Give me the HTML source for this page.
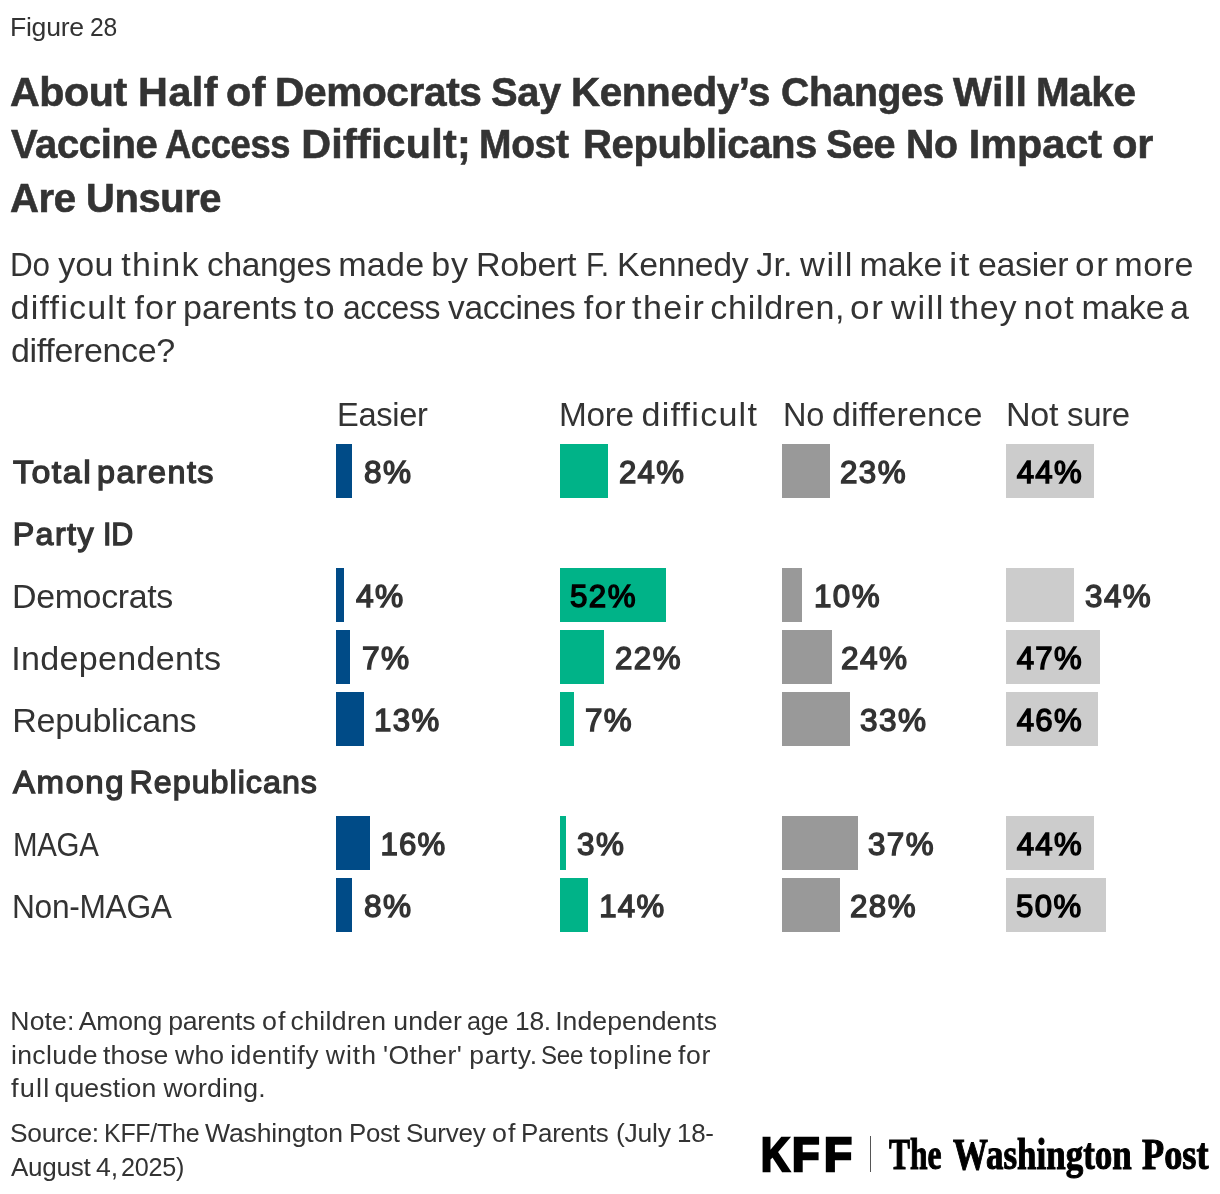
<!DOCTYPE html>
<html lang="en"><head><meta charset="utf-8"><title>Figure 28</title>
<style>
html,body{margin:0;padding:0;background:#fff;}
body{width:1220px;height:1194px;position:relative;overflow:hidden;font-family:"Liberation Sans",sans-serif;color:#333;}
.t{position:absolute;left:0;white-space:pre;line-height:1;margin:0;}
.t span{position:absolute;top:0;transform-origin:0 0;}
.b{position:absolute;height:54px;}
</style></head><body>
<div class="b" style="left:336px;top:444px;width:16px;background:#004b87"></div>
<div class="b" style="left:560px;top:444px;width:48px;background:#00b388"></div>
<div class="b" style="left:782px;top:444px;width:48px;background:#999999"></div>
<div class="b" style="left:1006px;top:444px;width:88px;background:#cccccc"></div>
<div class="b" style="left:336px;top:568px;width:8px;background:#004b87"></div>
<div class="b" style="left:560px;top:568px;width:106px;background:#00b388"></div>
<div class="b" style="left:782px;top:568px;width:20px;background:#999999"></div>
<div class="b" style="left:1006px;top:568px;width:68px;background:#cccccc"></div>
<div class="b" style="left:336px;top:630px;width:14px;background:#004b87"></div>
<div class="b" style="left:560px;top:630px;width:44px;background:#00b388"></div>
<div class="b" style="left:782px;top:630px;width:50px;background:#999999"></div>
<div class="b" style="left:1006px;top:630px;width:94px;background:#cccccc"></div>
<div class="b" style="left:336px;top:692px;width:28px;background:#004b87"></div>
<div class="b" style="left:560px;top:692px;width:14px;background:#00b388"></div>
<div class="b" style="left:782px;top:692px;width:68px;background:#999999"></div>
<div class="b" style="left:1006px;top:692px;width:92px;background:#cccccc"></div>
<div class="b" style="left:336px;top:816px;width:34px;background:#004b87"></div>
<div class="b" style="left:560px;top:816px;width:6px;background:#00b388"></div>
<div class="b" style="left:782px;top:816px;width:76px;background:#999999"></div>
<div class="b" style="left:1006px;top:816px;width:88px;background:#cccccc"></div>
<div class="b" style="left:336px;top:878px;width:16px;background:#004b87"></div>
<div class="b" style="left:560px;top:878px;width:28px;background:#00b388"></div>
<div class="b" style="left:782px;top:878px;width:58px;background:#999999"></div>
<div class="b" style="left:1006px;top:878px;width:100px;background:#cccccc"></div>
<div class="t" style="top:14px;font-size:26.6px;"><span style="left:9.5px;letter-spacing:-0.266px;transform:scaleX(0.9996);">Figure</span> <span style="left:89.53px;letter-spacing:-0.266px;transform:scaleX(0.928);">28</span></div>
<div class="t" style="top:72px;font-size:41.33px;font-weight:700;-webkit-text-stroke:0.6px #333333;"><span style="left:9.5px;letter-spacing:-0.413px;transform:scaleX(0.9966);">About</span> <span style="left:138.09px;letter-spacing:0.479px;">Half</span> <span style="left:225.98px;letter-spacing:0.558px;">of</span> <span style="left:274.95px;letter-spacing:-0.413px;transform:scaleX(0.9837);">Democrats</span> <span style="left:490.87px;letter-spacing:-0.413px;transform:scaleX(0.9644);">Say</span> <span style="left:571.1px;letter-spacing:-0.413px;transform:scaleX(0.9775);">Kennedy’s</span> <span style="left:780.71px;letter-spacing:-0.413px;transform:scaleX(0.9485);">Changes</span> <span style="left:952.93px;letter-spacing:0.358px;">Will</span> <span style="left:1035.55px;letter-spacing:-0.413px;transform:scaleX(0.9783);">Make</span></div>
<div class="t" style="top:124px;font-size:41.33px;font-weight:700;-webkit-text-stroke:0.6px #333333;"><span style="left:10.79px;letter-spacing:-0.413px;transform:scaleX(0.9687);">Vaccine</span> <span style="left:164.58px;letter-spacing:-0.413px;transform:scaleX(0.8789);">Access</span> <span style="left:301.2px;letter-spacing:0.21px;">Difficult;</span> <span style="left:479.09px;letter-spacing:-0.413px;transform:scaleX(0.9445);">Most</span> <span style="left:582.55px;letter-spacing:-0.413px;transform:scaleX(0.9703);">Republicans</span> <span style="left:825.99px;letter-spacing:-0.413px;transform:scaleX(0.9576);">See</span> <span style="left:906.05px;letter-spacing:-0.413px;transform:scaleX(0.9494);">No</span> <span style="left:968.85px;letter-spacing:-0.023px;">Impact</span> <span style="left:1112.21px;letter-spacing:-0.153px;">or</span></div>
<div class="t" style="top:178px;font-size:41.33px;font-weight:700;-webkit-text-stroke:0.6px #333333;"><span style="left:9.52px;letter-spacing:-0.413px;transform:scaleX(0.971);">Are</span> <span style="left:86.02px;letter-spacing:-0.413px;transform:scaleX(0.9652);">Unsure</span></div>
<div class="t" style="top:247px;font-size:34.1px;"><span style="left:10.45px;letter-spacing:-0.341px;transform:scaleX(0.9232);">Do</span> <span style="left:58.23px;letter-spacing:0.104px;">you</span> <span style="left:121.22px;letter-spacing:1.325px;">think</span> <span style="left:206.5px;letter-spacing:-0.341px;transform:scaleX(0.9809);">changes</span> <span style="left:338.16px;letter-spacing:0.23px;">made</span> <span style="left:431.22px;letter-spacing:0.839px;">by</span> <span style="left:476.03px;letter-spacing:-0.341px;transform:scaleX(0.9982);">Robert</span> <span style="left:585.56px;letter-spacing:-0.341px;transform:scaleX(0.8841);">F.</span> <span style="left:616.71px;letter-spacing:-0.341px;transform:scaleX(0.9935);">Kennedy</span> <span style="left:756.3px;letter-spacing:0.107px;">Jr.</span> <span style="left:800.21px;letter-spacing:1.534px;transform:scaleX(1.01);">will</span> <span style="left:859.45px;letter-spacing:-0.078px;">make</span> <span style="left:949.47px;letter-spacing:1.534px;transform:scaleX(1.1028);">it</span> <span style="left:977.92px;letter-spacing:-0.341px;transform:scaleX(0.9948);">easier</span> <span style="left:1074.9px;letter-spacing:1.534px;transform:scaleX(1.0343);">or</span> <span style="left:1114.2px;letter-spacing:0.571px;">more</span></div>
<div class="t" style="top:290px;font-size:34.1px;"><span style="left:10.5px;letter-spacing:1.209px;">difficult</span> <span style="left:134.53px;letter-spacing:1.125px;">for</span> <span style="left:182.94px;letter-spacing:0.085px;">parents</span> <span style="left:304.39px;letter-spacing:1.534px;transform:scaleX(1.0232);">to</span> <span style="left:342.9px;letter-spacing:-0.341px;transform:scaleX(0.933);">access</span> <span style="left:447.62px;letter-spacing:-0.341px;transform:scaleX(0.9816);">vaccines</span> <span style="left:583.71px;letter-spacing:1.125px;">for</span> <span style="left:632.12px;letter-spacing:1.381px;">their</span> <span style="left:710.32px;letter-spacing:0.675px;">children,</span> <span style="left:850.22px;letter-spacing:1.534px;transform:scaleX(1.0346);">or</span> <span style="left:890.55px;letter-spacing:1.534px;transform:scaleX(1.0104);">will</span> <span style="left:949.81px;letter-spacing:0.796px;">they</span> <span style="left:1023.6px;letter-spacing:1.349px;">not</span> <span style="left:1081.58px;letter-spacing:-0.067px;">make</span> <span style="left:1170.03px;">a</span></div>
<div class="t" style="top:333px;font-size:34.1px;"><span style="left:10.5px;letter-spacing:-0.341px;transform:scaleX(0.998);">difference?</span></div>
<div class="t" style="top:397px;font-size:34.1px;"><span style="left:336.99px;letter-spacing:-0.341px;transform:scaleX(0.9574);">Easier</span></div>
<div class="t" style="top:397px;font-size:34.1px;"><span style="left:559.34px;letter-spacing:-0.341px;transform:scaleX(0.9785);">More</span> <span style="left:641.56px;letter-spacing:1.233px;">difficult</span></div>
<div class="t" style="top:397px;font-size:34.1px;"><span style="left:782.89px;letter-spacing:-0.341px;transform:scaleX(0.9529);">No</span> <span style="left:832.01px;letter-spacing:0.145px;">difference</span></div>
<div class="t" style="top:397px;font-size:34.1px;"><span style="left:1005.9px;letter-spacing:-0.219px;">Not</span> <span style="left:1067.35px;letter-spacing:-0.341px;transform:scaleX(0.9679);">sure</span></div>
<div class="t" style="top:456px;font-size:32.22px;-webkit-text-stroke:1.3px #333333;"><span style="left:13.38px;letter-spacing:1.45px;transform:scaleX(1.0516);">Total</span> <span style="left:97.11px;letter-spacing:1.45px;transform:scaleX(1.0025);">parents</span></div>
<div class="t" style="top:518px;font-size:32.22px;-webkit-text-stroke:1.3px #333333;"><span style="left:12.65px;letter-spacing:1.421px;">Party</span> <span style="left:102.93px;letter-spacing:-0.322px;transform:scaleX(0.9455);">ID</span></div>
<div class="t" style="top:579px;font-size:34.1px;"><span style="left:12.31px;letter-spacing:-0.341px;transform:scaleX(0.9957);">Democrats</span></div>
<div class="t" style="top:641px;font-size:34.1px;"><span style="left:11.3px;letter-spacing:0.281px;">Independents</span></div>
<div class="t" style="top:703px;font-size:34.1px;"><span style="left:12.3px;letter-spacing:-0.321px;">Republicans</span></div>
<div class="t" style="top:766px;font-size:32.22px;-webkit-text-stroke:1.3px #333333;"><span style="left:12.87px;letter-spacing:1.45px;transform:scaleX(1.0244);">Among</span> <span style="left:129.52px;letter-spacing:1.012px;">Republicans</span></div>
<div class="t" style="top:827px;font-size:34.1px;"><span style="left:12.57px;letter-spacing:-0.341px;transform:scaleX(0.8647);">MAGA</span></div>
<div class="t" style="top:889px;font-size:34.1px;"><span style="left:12.44px;letter-spacing:-0.341px;transform:scaleX(0.9306);">Non-MAGA</span></div>
<div class="t" style="top:457px;font-size:31.17px;-webkit-text-stroke:1.4px #333333;"><span style="left:364.0px;letter-spacing:1.403px;transform:scaleX(1.0124);">8%</span></div>
<div class="t" style="top:457px;font-size:31.17px;-webkit-text-stroke:1.4px #333333;"><span style="left:618.9px;letter-spacing:1.372px;">24%</span></div>
<div class="t" style="top:457px;font-size:31.17px;-webkit-text-stroke:1.4px #333333;"><span style="left:839.5px;letter-spacing:1.403px;transform:scaleX(1.0068);">23%</span></div>
<div class="t" style="top:457px;font-size:31.17px;color:#000000;-webkit-text-stroke:1.4px #000000;"><span style="left:1016.7px;letter-spacing:1.322px;">44%</span></div>
<div class="t" style="top:581px;font-size:31.17px;-webkit-text-stroke:1.4px #333333;"><span style="left:355.71px;letter-spacing:1.403px;transform:scaleX(1.0185);">4%</span></div>
<div class="t" style="top:581px;font-size:31.17px;color:#000000;-webkit-text-stroke:1.4px #000000;"><span style="left:570.3px;letter-spacing:1.403px;transform:scaleX(1.0052);">52%</span></div>
<div class="t" style="top:581px;font-size:31.17px;-webkit-text-stroke:1.4px #333333;"><span style="left:813.59px;letter-spacing:1.403px;transform:scaleX(1.0069);">10%</span></div>
<div class="t" style="top:581px;font-size:31.17px;-webkit-text-stroke:1.4px #333333;"><span style="left:1084.9px;letter-spacing:1.403px;transform:scaleX(1.0083);">34%</span></div>
<div class="t" style="top:643px;font-size:31.17px;-webkit-text-stroke:1.4px #333333;"><span style="left:361.89px;letter-spacing:1.403px;transform:scaleX(1.0167);">7%</span></div>
<div class="t" style="top:643px;font-size:31.17px;-webkit-text-stroke:1.4px #333333;"><span style="left:614.8px;letter-spacing:1.403px;transform:scaleX(1.0052);">22%</span></div>
<div class="t" style="top:643px;font-size:31.17px;-webkit-text-stroke:1.4px #333333;"><span style="left:841.3px;letter-spacing:1.403px;transform:scaleX(1.0129);">24%</span></div>
<div class="t" style="top:643px;font-size:31.17px;color:#000000;-webkit-text-stroke:1.4px #000000;"><span style="left:1016.7px;letter-spacing:1.322px;">47%</span></div>
<div class="t" style="top:705px;font-size:31.17px;-webkit-text-stroke:1.4px #333333;"><span style="left:374.1px;letter-spacing:1.403px;transform:scaleX(1.0022);">13%</span></div>
<div class="t" style="top:705px;font-size:31.17px;-webkit-text-stroke:1.4px #333333;"><span style="left:584.5px;letter-spacing:1.403px;transform:scaleX(1.0058);">7%</span></div>
<div class="t" style="top:705px;font-size:31.17px;-webkit-text-stroke:1.4px #333333;"><span style="left:859.6px;letter-spacing:1.403px;transform:scaleX(1.0114);">33%</span></div>
<div class="t" style="top:705px;font-size:31.17px;color:#000000;-webkit-text-stroke:1.4px #000000;"><span style="left:1016.7px;letter-spacing:1.322px;">46%</span></div>
<div class="t" style="top:829px;font-size:31.17px;-webkit-text-stroke:1.4px #333333;"><span style="left:380.4px;letter-spacing:1.172px;">16%</span></div>
<div class="t" style="top:829px;font-size:31.17px;-webkit-text-stroke:1.4px #333333;"><span style="left:576.6px;letter-spacing:1.403px;transform:scaleX(1.008);">3%</span></div>
<div class="t" style="top:829px;font-size:31.17px;-webkit-text-stroke:1.4px #333333;"><span style="left:868.3px;letter-spacing:1.403px;transform:scaleX(1.0052);">37%</span></div>
<div class="t" style="top:829px;font-size:31.17px;color:#000000;-webkit-text-stroke:1.4px #000000;"><span style="left:1016.7px;letter-spacing:1.322px;">44%</span></div>
<div class="t" style="top:891px;font-size:31.17px;-webkit-text-stroke:1.4px #333333;"><span style="left:364.0px;letter-spacing:1.403px;transform:scaleX(1.0145);">8%</span></div>
<div class="t" style="top:891px;font-size:31.17px;-webkit-text-stroke:1.4px #333333;"><span style="left:599.2px;letter-spacing:1.272px;">14%</span></div>
<div class="t" style="top:891px;font-size:31.17px;-webkit-text-stroke:1.4px #333333;"><span style="left:849.9px;letter-spacing:1.403px;transform:scaleX(1.0052);">28%</span></div>
<div class="t" style="top:891px;font-size:31.17px;color:#000000;-webkit-text-stroke:1.4px #000000;"><span style="left:1016.4px;letter-spacing:1.403px;transform:scaleX(1.0006);">50%</span></div>
<div class="t" style="top:1008px;font-size:26.6px;"><span style="left:10.3px;letter-spacing:0.145px;">Note:</span> <span style="left:78.63px;letter-spacing:-0.148px;">Among</span> <span style="left:168.24px;letter-spacing:-0.235px;">parents</span> <span style="left:261.56px;letter-spacing:1.197px;transform:scaleX(1.0083);">of</span> <span style="left:290.5px;letter-spacing:0.355px;">children</span> <span style="left:393.21px;letter-spacing:0.182px;">under</span> <span style="left:467.48px;letter-spacing:-0.266px;transform:scaleX(0.9478);">age</span> <span style="left:514.78px;letter-spacing:-0.266px;transform:scaleX(0.9923);">18.</span> <span style="left:555.14px;letter-spacing:0.07px;">Independents</span></div>
<div class="t" style="top:1042px;font-size:26.6px;"><span style="left:10.9px;letter-spacing:0.376px;">include</span> <span style="left:103.12px;letter-spacing:0.062px;">those</span> <span style="left:175.1px;letter-spacing:0.137px;">who</span> <span style="left:230.15px;letter-spacing:0.576px;">identify</span> <span style="left:325.79px;letter-spacing:0.965px;">with</span> <span style="left:382.99px;letter-spacing:0.359px;">'Other'</span> <span style="left:469.3px;letter-spacing:0.661px;">party.</span> <span style="left:541.41px;letter-spacing:-0.266px;transform:scaleX(0.9064);">See</span> <span style="left:589.57px;letter-spacing:0.739px;">topline</span> <span style="left:678.06px;letter-spacing:0.631px;">for</span></div>
<div class="t" style="top:1075px;font-size:26.6px;"><span style="left:11.3px;letter-spacing:1.197px;transform:scaleX(1.0197);">full</span> <span style="left:54.4px;letter-spacing:0.196px;">question</span> <span style="left:163.38px;letter-spacing:0.256px;">wording.</span></div>
<div class="t" style="top:1120px;font-size:26.6px;"><span style="left:10.31px;letter-spacing:-0.266px;transform:scaleX(0.99);">Source:</span> <span style="left:103.8px;letter-spacing:-0.266px;transform:scaleX(0.9379);">KFF/The</span> <span style="left:205.06px;letter-spacing:-0.173px;">Washington</span> <span style="left:349.12px;letter-spacing:-0.266px;transform:scaleX(0.9706);">Post</span> <span style="left:405.66px;letter-spacing:-0.266px;transform:scaleX(0.9801);">Survey</span> <span style="left:491.81px;letter-spacing:1.197px;transform:scaleX(1.0083);">of</span> <span style="left:520.8px;letter-spacing:-0.266px;transform:scaleX(0.9745);">Parents</span> <span style="left:615.6px;letter-spacing:-0.266px;transform:scaleX(0.9972);">(July</span> <span style="left:676.94px;letter-spacing:-0.266px;transform:scaleX(0.976);">18-</span></div>
<div class="t" style="top:1154px;font-size:26.6px;"><span style="left:10.7px;letter-spacing:-0.266px;transform:scaleX(0.9791);">August</span> <span style="left:96.03px;letter-spacing:0.033px;">4,</span> <span style="left:121.41px;letter-spacing:-0.266px;transform:scaleX(0.947);">2025)</span></div>
<div class="t" style="top:1131.34px;font-size:47.67px;font-weight:700;color:#000;-webkit-text-stroke:2.6px #000;"><span style="left:760.78px;transform:scaleX(0.8363);">K</span><span style="left:792.09px;transform:scaleX(0.9457);">F</span><span style="left:824.06px;transform:scaleX(0.9638);">F</span></div>
<div style="position:absolute;left:870px;top:1136px;width:1px;height:36px;background:#555"></div>
<div class="t" style="top:1132.95px;font-family:'Liberation Serif',serif;font-size:44.0px;font-weight:700;color:#000;-webkit-text-stroke:1.1px #000;"><span style="left:889.29px;transform:scaleX(0.7170);">The</span> <span style="left:953.44px;transform:scaleX(0.7943);">Washington</span> <span style="left:1142.45px;transform:scaleX(0.8246);">Post</span></div>
</body></html>
